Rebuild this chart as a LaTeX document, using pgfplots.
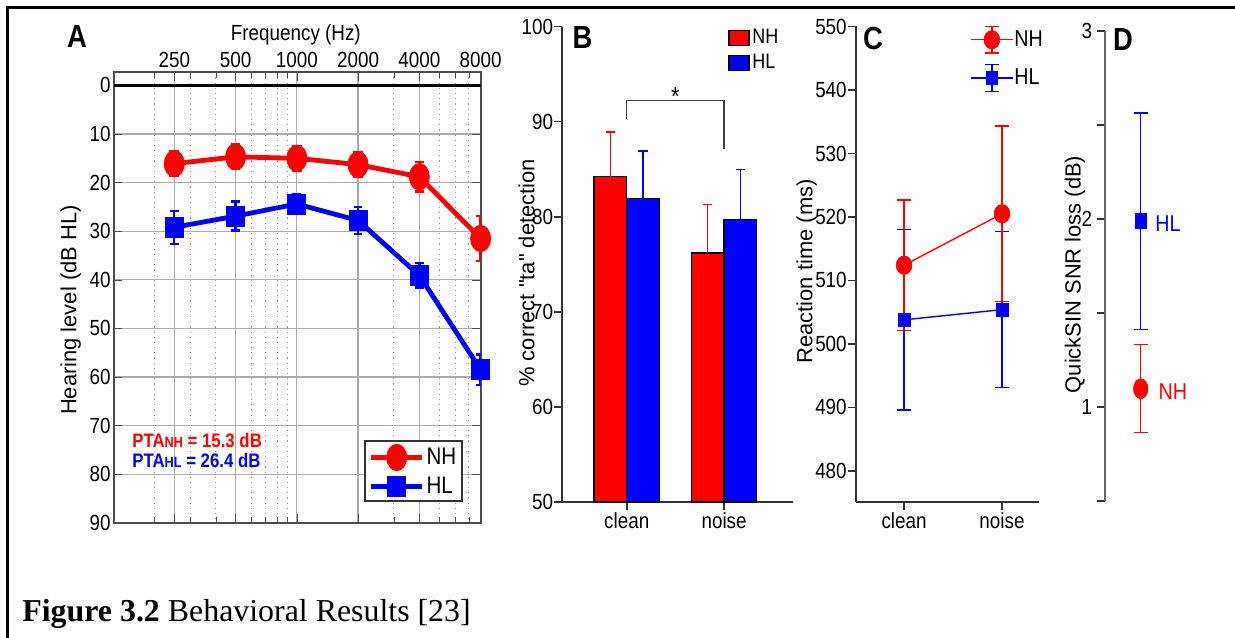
\documentclass[border=0pt]{standalone}
\usepackage{fontspec}
\setmainfont{Liberation Sans}[FakeStretch=0.86]
\newfontfamily\rotfont{Liberation Sans}
\newfontfamily\capfont{Liberation Serif}
\usepackage{pgfplots}
\pgfplotsset{compat=1.18}
\definecolor{nhred}{RGB}{255,0,0}
\definecolor{hlblue}{RGB}{0,0,255}
\newcommand{\tickfont}{\fontsize{11}{12}\selectfont}
\newcommand{\labfont}{\rotfont\fontsize{11}{12}\selectfont}

\pgfplotsset{
  panel/.style={
    scale only axis, anchor=south west,
    /pgf/number format/assume math mode=true,
    tick label style={font=\tickfont},
  },
  % open axes, only left and bottom lines
  gp/.style={
    panel,
    axis x line*=bottom, axis y line*=left,
    axis line style={black!80, line width=0.8bp},
    tick style={black!80, line width=0.8bp},
    tick align=outside, major tick length=3.8bp,
    yticklabel style={inner xsep=0.5bp},
    xticklabel style={inner ysep=1.5bp},
    ylabel style={font=\labfont, anchor=center},
  },
}

\begin{document}
\begin{tikzpicture}
\useasboundingbox (0,0) rectangle (617.5bp,-319bp);
\draw[line width=1.5bp] (3.85bp,-319bp) -- (3.85bp,-3.85bp) -- (617.5bp,-3.85bp);

% ---- A: audiogram
\begin{axis}[panel,
  at={(57bp,-261.35bp)}, width=183.3bp, height=225.2bp,
  xmode=log, xmin=126.4, xmax=8000,
  ymin=-2.7, ymax=90, y dir=reverse,
  xtick={250,500,1000,2000,4000,8000},
  xticklabels={250,500,1000,2000,4000,8000},
  minor xtick={200,300,400,600,700,800,900,3000,5000,6000,7000},
  ytick={0,10,...,90},
  xticklabel pos=upper,
  xticklabel style={inner ysep=2bp},
  yticklabel style={inner xsep=1.5bp},
  grid=both,
  grid style={draw=black!33, line width=0.6bp},
  minor grid style={draw=black!40, dotted, line width=0.5bp},
  axis line style={black!70, line width=0.9bp},
  tick style={black!70},
  xlabel={Frequency (Hz)},
  xlabel style={at={(axis description cs:0.496,1.084)}, anchor=center, font=\tickfont},
  ylabel={Hearing level (dB HL)},
  ylabel style={at={(axis description cs:-0.118,0.472)}, anchor=center, font=\labfont},
  legend style={at={(0.9526,0.046)}, anchor=south east, draw=black!80, line width=0.9bp,
    font=\fontsize{12}{13}\selectfont, inner xsep=2bp, inner ysep=1.5bp,
    row sep=2bp, nodes={inner sep=1bp}},
  legend cell align=left,
  legend image code/.code={\draw[mark repeat=2,mark phase=2,#1] plot coordinates {(0bp,0bp) (12.75bp,0bp) (25.5bp,0bp)};},
]
\addplot[black, line width=1.4bp, forget plot] coordinates {(126.4,0) (8000,0)};
\addplot[nhred, line width=2.4bp, mark=*, mark size=6.6bp, mark options={xscale=0.76, line width=0.4bp},
  error bars/.cd, y dir=both, y explicit,
  error bar style={nhred, line width=1.2bp},
  error mark options={rotate=90, nhred, mark size=2.4bp, line width=1.2bp}]
  coordinates {(250,16.1) +- (0,2.5) (500,14.7) +- (0,2.5) (1000,15.0) +- (0,2.5)
               (2000,16.3) +- (0,2.5) (4000,18.8) +- (0,3.0) (8000,31.5) +- (0,4.6)};
\addlegendentry{NH}
\addplot[hlblue, line width=2.4bp, mark=square*, mark size=5.0bp, mark options={xscale=0.9, line width=0.4bp},
  error bars/.cd, y dir=both, y explicit,
  error bar style={hlblue, line width=1.2bp},
  error mark options={rotate=90, hlblue, mark size=2.2bp, line width=1.2bp}]
  coordinates {(250,29.2) +- (0,3.4) (500,26.9) +- (0,3.0) (1000,24.4) +- (0,2.0)
               (2000,27.8) +- (0,2.8) (4000,39.1) +- (0,2.5) (8000,58.5) +- (0,3.1)};
\addlegendentry{HL}
\node[anchor=west, inner sep=0, text=nhred, font=\bfseries\fontsize{9.8}{10}\selectfont]
  at (axis description cs:0.049,0.182) {PTA{\fontsize{7.4}{8}\selectfont NH} = 15.3 dB};
\node[anchor=west, inner sep=0, text=hlblue, font=\bfseries\fontsize{9.8}{10}\selectfont]
  at (axis description cs:0.049,0.138) {PTA{\fontsize{7.4}{8}\selectfont HL} = 26.4 dB};
\end{axis}

% ---- B: detection
\begin{axis}[gp,
  at={(281bp,-251bp)}, width=115.7bp, height=237.75bp,
  xmin=-0.665, xmax=1.712, ymin=50, ymax=100,
  ybar=0pt, bar width=16.3bp,
  xtick={0,1}, xticklabels={clean,noise},
  ytick={50,60,...,100},
  ylabel={\% correct "ta" detection},
  ylabel style={at={(axis description cs:-0.153,0.482)}},
  legend style={at={(axis cs:1.04,100.0)}, anchor=north west, draw=none, fill=none,
    font=\fontsize{10.5}{11}\selectfont, inner sep=0pt, row sep=1.2bp, nodes={inner sep=1.3bp}},
  legend cell align=left,
  legend image code/.code={\draw[#1] (0bp,-3.7bp) rectangle (10bp,3.7bp);},
]
\addplot[fill=nhred, draw=black, line width=0.7bp,
  error bars/.cd, y dir=plus, y explicit,
  error bar style={nhred, line width=0.6bp},
  error mark options={rotate=90, nhred, mark size=2.3bp, line width=0.6bp}]
  coordinates {(0,84.2) +- (0,4.7) (1,76.2) +- (0,5.1)};
\addlegendentry{NH}
\addplot[fill=hlblue, draw=black, line width=0.7bp,
  error bars/.cd, y dir=plus, y explicit,
  error bar style={hlblue, line width=0.6bp},
  error mark options={rotate=90, hlblue, mark size=2.3bp, line width=0.6bp}]
  coordinates {(0,81.9) +- (0,5.0) (1,79.7) +- (0,5.3)};
\addlegendentry{HL}
\draw[black!75, line width=0.6bp] (axis cs:0,90.3) -- (axis cs:0,92.2) -- (axis cs:1,92.2) -- (axis cs:1,87.1);
\node[inner sep=0, anchor=north, font=\fontsize{13}{13}\selectfont] at (axis cs:0.5,93.6) {*};
\end{axis}

% ---- C: reaction time
\begin{axis}[gp,
  at={(427.85bp,-251bp)}, width=91.8bp, height=237.75bp,
  xmin=-0.494, xmax=1.381, ymin=475.1, ymax=550,
  xtick={0,1}, xticklabels={clean,noise},
  ytick={480,490,...,550},
  ylabel={Reaction time (ms)},
  ylabel style={at={(axis description cs:-0.267,0.485)}},
  reverse legend,
  legend style={at={(axis cs:0.673,550.2)}, anchor=north west, draw=none, fill=none,
    font=\fontsize{11.5}{12}\selectfont, inner sep=0pt, row sep=5bp, nodes={inner sep=0.5bp}},
  legend cell align=left,
  legend image code/.code={
    \draw[#1, mark=none] (10.4bp,-6.7bp) -- (10.4bp,6.7bp)
      (6.9bp,-6.7bp) -- (13.9bp,-6.7bp) (6.9bp,6.7bp) -- (13.9bp,6.7bp);
    \draw[mark repeat=2,mark phase=2,#1] plot coordinates {(0bp,0bp) (10.4bp,0bp) (20.8bp,0bp)};},
]
\addplot[hlblue, line width=0.7bp, mark=square*, mark size=3.3bp, mark options={xscale=0.89, line width=0.3bp},
  error bars/.cd, y dir=both, y explicit,
  error bar style={hlblue, line width=0.7bp},
  error mark options={rotate=90, hlblue, mark size=3.5bp, line width=0.7bp}]
  coordinates {(0,503.8) +- (0,14.2) (1,505.4) +- (0,12.3)};
\addlegendentry{HL}
\addplot[nhred, line width=0.7bp, mark=*, mark size=4.6bp, mark options={xscale=0.86, line width=0.3bp},
  error bars/.cd, y dir=both, y explicit,
  error bar style={nhred, line width=0.7bp},
  error mark options={rotate=90, nhred, mark size=3.5bp, line width=0.7bp}]
  coordinates {(0,512.4) +- (0,10.3) (1,520.5) +- (0,13.8)};
\addlegendentry{NH}
\end{axis}

% ---- D: QuickSIN
\begin{axis}[gp,
  at={(552.5bp,-250.5bp)}, width=50bp, height=235bp,
  xmin=0, xmax=1, ymin=0.5, ymax=3,
  x axis line style={draw=none}, xtick=\empty,
  y axis line style={black!60},
  ytick={0.5,1,1.5,2,2.5,3}, yticklabels={,1,,2,,3},
  yticklabel style={inner xsep=2.5bp},
  ylabel={QuickSIN SNR loss (dB)},
  ylabel style={at={(axis description cs:-0.30,0.482)}},
]
\addplot[hlblue, line width=0.7bp, mark=square*, mark size=3.75bp, mark options={xscale=0.73, line width=0.3bp},
  error bars/.cd, y dir=both, y explicit,
  error bar style={hlblue, line width=0.7bp},
  error mark options={rotate=90, hlblue, mark size=3.5bp, line width=0.7bp}]
  coordinates {(0.357,1.988) +- (0,0.575)};
\addplot[nhred, line width=0.7bp, mark=*, mark size=5bp, mark options={xscale=0.72, line width=0.3bp},
  error bars/.cd, y dir=both, y explicit,
  error bar style={nhred, line width=0.7bp},
  error mark options={rotate=90, nhred, mark size=3.5bp, line width=0.7bp}]
  coordinates {(0.357,1.097) +- (0,0.234)};
\node[anchor=west, inner sep=0, text=hlblue, font=\fontsize{11.5}{12}\selectfont] at (axis cs:0.50,1.977) {HL};
\node[anchor=west, inner sep=0, text=nhred, font=\fontsize{11.5}{12}\selectfont] at (axis cs:0.533,1.081) {NH};
\end{axis}

% panel letters and caption
\node[inner sep=0, font=\bfseries\fontsize{16}{16}\selectfont] at (38.5bp,-18.5bp) {A};
\node[inner sep=0, font=\bfseries\fontsize{16}{16}\selectfont] at (291.25bp,-19bp) {B};
\node[inner sep=0, font=\bfseries\fontsize{16}{16}\selectfont] at (436.5bp,-19.5bp) {C};
\node[inner sep=0, font=\bfseries\fontsize{16}{16}\selectfont] at (561.5bp,-19.75bp) {D};
\node[anchor=base west, inner sep=0, font=\capfont\fontsize{16}{16}\selectfont]
  at (11bp,-310.85bp) {\textbf{Figure 3.2} Behavioral Results [23]};
\end{tikzpicture}
\end{document}
